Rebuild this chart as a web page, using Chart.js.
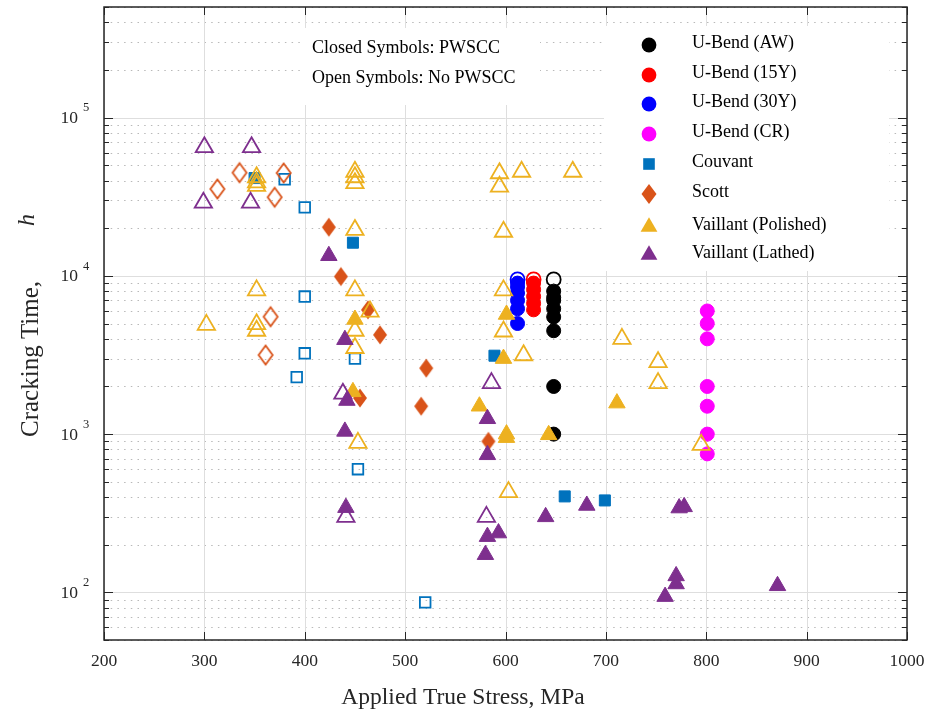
<!DOCTYPE html>
<html>
<head>
<meta charset="utf-8">
<script src="https://cdn.jsdelivr.net/npm/chart.js@4.4.1/dist/chart.umd.min.js"></script>
<style>
  body { margin: 0; background: #fff; }
  canvas { display: block; }
</style>
</head>
<body>
<canvas id="stressChart" width="926" height="710"></canvas>
<script>
// axis ticks
const xTicks = [200, 300, 400, 500, 600, 700, 800, 900, 1000];
const yDecades = [100, 1000, 10000, 100000];
const yExponents = ["2", "3", "4", "5"];

const seriesNames = [
  "U-Bend (AW)", "U-Bend (15Y)", "U-Bend (30Y)", "U-Bend (CR)",
  "Couvant", "Scott", "Vaillant (Polished)", "Vaillant (Lathed)"
];

// [applied true stress MPa, cracking time h]
const awClosed = [[648, 8000], [648, 7300], [648, 7000], [648, 6200], [648, 5500], [648, 4500], [648, 2000], [648, 1000]];
const awOpen = [[648, 9500]];
const y15Closed = [[628, 9000], [628, 8200], [628, 7400], [628, 6700], [628, 6100]];
const y15Open = [[628, 9500]];
const y30Closed = [[612, 9000], [612, 8500], [612, 7800], [612, 7000], [612, 6200], [612, 5000]];
const y30Open = [[612, 9500]];
const crClosed = [[801, 6000], [801, 5000], [801, 4000], [801, 2000], [801, 1500], [801, 1000], [801, 750]];

const couvantClosed = [[350, 41500], [448, 16200], [589, 3130], [659, 404], [699, 381]];
const couvantOpen = [[380, 40800], [400, 27100], [400, 7400], [400, 3240], [392, 2290], [450, 3000], [453, 600], [520, 86.5]];

const scottClosed = [[424, 20300], [436, 9900], [463, 6100], [475, 4240], [455, 1690], [521, 2610], [516, 1500], [583, 900]];
const scottOpen = [[313, 35400], [335, 44900], [379, 44700], [370, 31400], [366, 5520], [361, 3160]];

const polishedClosed = [[450, 5300], [448, 1850], [601, 5700], [598, 3000], [574, 1500], [711, 1570], [601, 1000], [601, 950], [643, 990]];
const polishedOpen = [
  [302, 4900], [352, 8100], [352, 4950], [352, 4500], [352, 42000], [352, 39000], [352, 37000],
  [450, 45500], [450, 42000], [450, 38500], [450, 19500], [450, 8100], [450, 4500], [450, 3500],
  [453, 880], [465, 5950], [594, 44500], [594, 36600], [616, 45500], [667, 45500], [598, 19000],
  [598, 8100], [598, 4450], [618, 3150], [603, 430], [716, 4000], [752, 2850], [752, 2100], [795, 855]
];

const lathedClosed = [
  [424, 13400], [440, 3950], [442, 1630], [440, 1040], [441, 343], [582, 1250], [582, 740],
  [582, 225], [593, 237], [580, 173], [640, 300], [681, 354], [773, 341], [778, 347],
  [759, 94], [770, 127], [770, 113], [871, 110]
];
const lathedOpen = [[300, 65000], [347, 65000], [299, 29000], [346, 29000], [438, 1800], [441, 300], [581, 300], [586, 2100]];

const colors = ["#000000", "#ff0000", "#0000ff", "#ff00ff", "#0072bd", "#d95319", "#edb120", "#7e2f8e"];
const FONT = "'Liberation Serif', 'Times New Roman', serif";
const INK = "#262626";

// minor log grid positions (2..9 of each decade)
const yMinor = [];
[10, 100, 1000, 10000, 100000].forEach(d => {
  for (let m = 2; m <= 9; m++) {
    const v = m * d;
    if (v >= 50 && v <= 500000 && v !== 100 && v !== 1000) yMinor.push(v);
  }
});

// elongated diamond marker like matlab's
function diamondCanvas(color, filled) {
  const c = document.createElement("canvas");
  c.width = 18; c.height = 24;
  const g = c.getContext("2d");
  g.beginPath();
  g.moveTo(9, 2.5); g.lineTo(16, 12); g.lineTo(9, 21.5); g.lineTo(2, 12); g.closePath();
  if (filled) { g.fillStyle = color; g.fill(); }
  else { g.strokeStyle = color; g.lineWidth = 1.8; g.stroke(); }
  return c;
}

const toXY = arr => arr.map(p => ({ x: p[0], y: p[1] }));

function ds(label, pts, style, color, filled, radius, order) {
  return {
    label: label,
    data: toXY(pts),
    pointStyle: style,
    pointRadius: radius,
    pointHoverRadius: radius,
    pointBackgroundColor: filled ? color : "rgba(0,0,0,0)",
    pointBorderColor: color,
    pointBorderWidth: filled ? 1 : 1.8,
    showLine: false,
    order: order
  };
}

const datasets = [
  ds(seriesNames[0], awClosed, "circle", colors[0], true, 7, 20),
  ds(seriesNames[0], awOpen, "circle", colors[0], false, 7, 19),
  ds(seriesNames[1], y15Closed, "circle", colors[1], true, 7, 18),
  ds(seriesNames[1], y15Open, "circle", colors[1], false, 7, 17),
  ds(seriesNames[2], y30Closed, "circle", colors[2], true, 7, 16),
  ds(seriesNames[2], y30Open, "circle", colors[2], false, 7, 15),
  ds(seriesNames[3], crClosed, "circle", colors[3], true, 7, 14),
  ds(seriesNames[4], couvantClosed, "rect", colors[4], true, 7.8, 13),
  ds(seriesNames[4], couvantOpen, "rect", colors[4], false, 7.5, 12),
  ds(seriesNames[5], scottClosed, diamondCanvas(colors[5], true), colors[5], true, 9, 11),
  ds(seriesNames[5], scottOpen, diamondCanvas(colors[5], false), colors[5], false, 9, 10),
  ds(seriesNames[6], polishedClosed, "triangle", colors[6], true, 9.5, 9),
  ds(seriesNames[6], polishedOpen, "triangle", colors[6], false, 10, 8),
  ds(seriesNames[7], lathedClosed, "triangle", colors[7], true, 9.5, 7),
  ds(seriesNames[7], lathedOpen, "triangle", colors[7], false, 10, 6)
];

function line(ctx, x1, y1, x2, y2) {
  ctx.beginPath(); ctx.moveTo(x1, y1); ctx.lineTo(x2, y2); ctx.stroke();
}

function legendMarker(ctx, i, cx, cy) {
  const c = colors[i];
  ctx.fillStyle = c;
  ctx.beginPath();
  if (i < 4) {
    ctx.arc(cx, cy, 7.4, 0, Math.PI * 2); ctx.fill();
  } else if (i === 4) {
    ctx.fillRect(cx - 5.8, cy - 5.8, 11.6, 11.6);
  } else if (i === 5) {
    ctx.moveTo(cx, cy - 10); ctx.lineTo(cx + 7.5, cy); ctx.lineTo(cx, cy + 10); ctx.lineTo(cx - 7.5, cy);
    ctx.closePath(); ctx.fill();
  } else {
    const r = 9.7;
    ctx.moveTo(cx, cy - r);
    ctx.lineTo(cx + r * 0.866, cy + r * 0.5);
    ctx.lineTo(cx - r * 0.866, cy + r * 0.5);
    ctx.closePath(); ctx.fill();
  }
}

const frame = {
  id: "frame",
  beforeDatasetsDraw(chart) {
    const { ctx, chartArea: a, scales: { x, y } } = chart;
    ctx.save();
    ctx.lineWidth = 1;
    // minor dotted grid
    ctx.strokeStyle = "#b9b9b9";
    ctx.setLineDash([1.5, 5.2]);
    yMinor.forEach(v => {
      const py = Math.round(y.getPixelForValue(v)) + 0.5;
      line(ctx, a.left, py, a.right, py);
    });
    ctx.setLineDash([]);
    // major grid
    ctx.strokeStyle = "#dedede";
    yDecades.forEach(v => {
      const py = Math.round(y.getPixelForValue(v)) + 0.5;
      line(ctx, a.left, py, a.right, py);
    });
    xTicks.forEach(v => {
      const px = Math.round(x.getPixelForValue(v)) + 0.5;
      line(ctx, px, a.top, px, a.bottom);
    });
    // white boxes for the note and the legend
    ctx.fillStyle = "#fff";
    ctx.fillRect(302, 28, 238, 77);
    ctx.fillRect(604, 26, 285, 245);
    ctx.restore();
  },
  afterDatasetsDraw(chart) {
    const { ctx, chartArea: a, scales: { x, y } } = chart;
    ctx.save();
    // axis box
    ctx.strokeStyle = INK;
    ctx.lineWidth = 1.5;
    ctx.strokeRect(a.left, a.top, a.right - a.left, a.bottom - a.top);
    // inward ticks
    ctx.lineWidth = 1;
    xTicks.forEach(v => {
      const px = Math.round(x.getPixelForValue(v)) + 0.5;
      line(ctx, px, a.bottom, px, a.bottom - 8);
      line(ctx, px, a.top, px, a.top + 8);
    });
    yDecades.forEach(v => {
      const py = Math.round(y.getPixelForValue(v)) + 0.5;
      line(ctx, a.left, py, a.left + 9, py);
      line(ctx, a.right, py, a.right - 9, py);
    });
    yMinor.forEach(v => {
      const py = Math.round(y.getPixelForValue(v)) + 0.5;
      line(ctx, a.left, py, a.left + 5, py);
      line(ctx, a.right, py, a.right - 5, py);
    });

    // tick labels
    ctx.fillStyle = INK;
    ctx.font = "17.5px " + FONT;
    ctx.textAlign = "center";
    ctx.textBaseline = "middle";
    xTicks.forEach(v => ctx.fillText(String(v), x.getPixelForValue(v), 661));
    yDecades.forEach((v, i) => {
      const py = y.getPixelForValue(v);
      ctx.font = "17.5px " + FONT;
      ctx.textAlign = "right";
      ctx.fillText("10", 78, py + 1);
      ctx.font = "12.5px " + FONT;
      ctx.textAlign = "left";
      ctx.fillText(yExponents[i], 83, py - 9.5);
    });

    // axis titles
    ctx.font = "23.5px " + FONT;
    ctx.textAlign = "center";
    ctx.textBaseline = "alphabetic";
    ctx.fillText("Applied True Stress, MPa", 463, 704);
    ctx.save();
    ctx.translate(38, 359);
    ctx.rotate(-Math.PI / 2);
    ctx.font = "25px " + FONT;
    ctx.fillText("Cracking Time,", 0, 0);
    ctx.restore();
    ctx.save();
    ctx.translate(34, 220);
    ctx.rotate(-Math.PI / 2);
    ctx.font = "italic 24px " + FONT;
    ctx.fillText("h", 0, 0);
    ctx.restore();

    // note
    ctx.fillStyle = "#000";
    ctx.font = "18px " + FONT;
    ctx.textAlign = "left";
    ctx.textBaseline = "middle";
    ctx.fillText("Closed Symbols: PWSCC", 312, 48);
    ctx.fillText("Open Symbols: No PWSCC", 312, 78);

    // legend
    const rows = [44, 74, 103, 133, 163, 193, 226, 254];
    seriesNames.forEach((name, i) => {
      legendMarker(ctx, i, 649, rows[i] + 1);
      ctx.fillStyle = "#000";
      ctx.fillText(name, 692, rows[i] - 1);
    });
    ctx.restore();
  }
};

new Chart(document.getElementById("stressChart"), {
  type: "scatter",
  data: { datasets: datasets },
  options: {
    responsive: false,
    animation: false,
    events: [],
    layout: { autoPadding: false, padding: { left: 0, right: 19, top: 7, bottom: 0 } },
    plugins: { legend: { display: false }, tooltip: { enabled: false } },
    scales: {
      x: {
        type: "linear",
        min: 200,
        max: 1000,
        grid: { display: false },
        border: { display: false },
        ticks: { display: false },
        afterFit: s => { s.height = 70; }
      },
      y: {
        type: "logarithmic",
        min: 50,
        max: 500000,
        grid: { display: false },
        border: { display: false },
        ticks: { display: false },
        afterFit: s => { s.width = 104; }
      }
    }
  },
  plugins: [frame]
});
</script>
</body>
</html>
